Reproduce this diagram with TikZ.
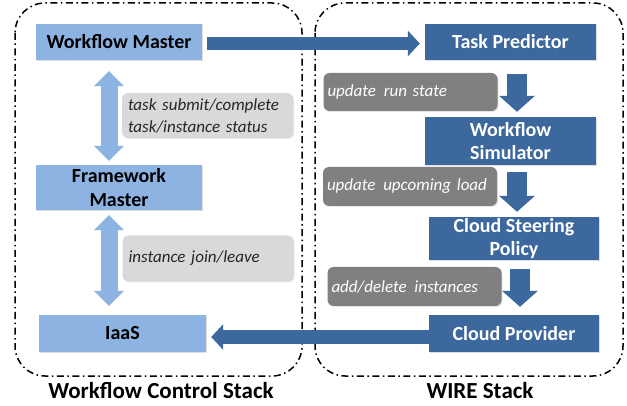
\documentclass[tikz,border=0pt]{standalone}
\usepackage{fontspec}
\setmainfont{Carlito}
\usetikzlibrary{arrows.meta,calc,shadows}
\definecolor{lblue}{HTML}{8DB3E2}
\definecolor{dblue}{HTML}{3D689E}
\definecolor{lgray}{HTML}{D9D9D9}
\definecolor{dgray}{HTML}{808080}
\tikzset{
  lbox/.style={fill=lblue, draw=none, font=\bfseries\fontsize{20}{23.5}\selectfont, text=black, align=center, inner sep=0pt, drop shadow={shadow xshift=1pt,shadow yshift=-1pt,opacity=0.25}},
  dbox/.style={fill=dblue, draw=none, font=\bfseries\fontsize{20}{23.5}\selectfont, text=white, align=center, inner sep=0pt, drop shadow={shadow xshift=1pt,shadow yshift=-1pt,opacity=0.25}},
  llabel/.style={fill=lgray, rounded corners=6pt, font=\itshape\fontsize{17}{22}\selectfont, text=black!85, align=left, inner ysep=0pt, inner xsep=6pt, text width=159pt, drop shadow={shadow xshift=1pt,shadow yshift=-1pt,opacity=0.2}},
  dlabel/.style={fill=dgray, rounded corners=6pt, font=\itshape\fontsize{17}{22}\selectfont, text=white, align=left, inner ysep=0pt, inner xsep=4pt, text width=166pt, drop shadow={shadow xshift=1pt,shadow yshift=-1pt,opacity=0.2}},
  stack/.style={draw=black, line width=1.5pt, dash pattern=on 7pt off 3.5pt on 1.5pt off 3.5pt, rounded corners=30pt},
  title/.style={font=\bfseries\fontsize{23}{26}\selectfont, inner sep=0pt},
  bigarrow/.style={draw=dblue, line width=13pt, -{Triangle[width=25pt,length=12pt]}},
  downarrow/.style={draw=dblue, line width=20pt, -{Triangle[width=35pt,length=16pt]}},
  duoarrow/.style={draw=lblue, line width=17pt, {Triangle[width=29pt,length=15pt]}-{Triangle[width=29pt,length=15pt]}},
}
\begin{document}
\begin{tikzpicture}[x=1pt,y=-1pt]
\useasboundingbox (0,0) rectangle (627,406);
% stacks
\draw[stack] (15,3) rectangle (302,376);
\draw[stack] (315,3) rectangle (623,376);
% nodes
\node[lbox, minimum width=166pt, minimum height=36pt] (wm) at (119,42) {Workflow Master};
\node[lbox, minimum width=166pt, minimum height=45pt] (fm) at (119,187.5) {Framework\\Master};
\node[lbox, minimum width=167pt, minimum height=37pt] (iaas) at (122.5,333.5) {IaaS};
\node[dbox, minimum width=171pt, minimum height=36pt] (tp) at (510.5,42) {Task Predictor};
\node[dbox, minimum width=171pt, minimum height=48pt] (ws) at (510.5,141) {Workflow\\Simulator};
\node[dbox, minimum width=170pt, minimum height=43pt] (csp) at (514,238.5) {Cloud Steering\\Policy};
\node[dbox, minimum width=170pt, minimum height=37pt] (cp) at (514,333.5) {Cloud Provider};
% labels
\node[llabel, minimum height=45pt] (l1) at (207.5,115.5) {task submit/complete\\task/instance status};
\node[llabel, minimum height=46pt] (l2) at (208,258.5) {instance join/leave};
\node[dlabel, minimum height=38pt] (d1) at (410.5,92) {update\hspace{2pt} run state};
\node[dlabel, minimum height=39pt] (d2) at (410,186.5) {update\hspace{2pt} upcoming load};
\node[dlabel, minimum height=39pt] (d3) at (414.5,286.5) {add/delete\hspace{2pt} instances};
% titles
\node[title] (t1) at (161,391) {Workflow Control Stack};
\node[title] (t2) at (480,391) {WIRE Stack};
% connectors
\draw[bigarrow, shorten >=5pt] ($(wm.east)+(5,1.5)$) -- ($(tp.west)+(0,1.5)$);
\draw[bigarrow, shorten >=5pt] ($(cp.west)+(0,3.5)$) -- ($(iaas.east)+(0,3.5)$);
\draw[duoarrow, shorten <=11pt, shorten >=4pt] ($(wm.south)+(-10,0)$) -- ($(fm.north)+(-10,0)$);
\draw[duoarrow, shorten <=5pt, shorten >=9pt] ($(fm.south)+(-10,0)$) -- ($(iaas.north)+(-13.5,0)$);
\draw[downarrow, shorten <=14pt, shorten >=5pt] ($(tp.south)+(6.5,0)$) -- ($(ws.north)+(6.5,0)$);
\draw[downarrow, shorten <=7pt, shorten >=5pt] ($(ws.south)+(6.5,0)$) -- ($(csp.north)+(3,0)$);
\draw[downarrow, shorten <=9pt, shorten >=8pt] ($(csp.south)+(6,0)$) -- ($(cp.north)+(6,0)$);
\end{tikzpicture}
\end{document}
